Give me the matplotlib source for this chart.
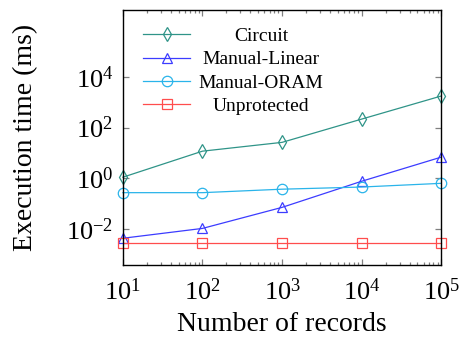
import matplotlib
matplotlib.use("Agg")
import matplotlib.pyplot as plt
from matplotlib.ticker import LogLocator, NullLocator, NullFormatter, FixedLocator

plt.rcParams['font.family'] = ['Liberation Serif', 'DejaVu Serif']
plt.rcParams['mathtext.fontset'] = 'cm'

records = [10, 100, 1000, 10000, 100000]
circuit = [1.1, 11.7, 26, 215, 1750]
manual_linear = [0.0043, 0.0105, 0.071, 0.76, 6.8]
manual_oram = [0.27, 0.27, 0.37, 0.45, 0.63]
unprotected = [0.0027, 0.0027, 0.0027, 0.0027, 0.0027]

series = [
    ("Circuit", circuit, '#2f9488', 'd', 7.0),
    ("Manual-Linear", manual_linear, '#3c3cff', '^', 6.5),
    ("Manual-ORAM", manual_oram, '#2ab4ea', 'o', 7.5),
    ("Unprotected", unprotected, '#ff4d4d', 's', 7.5),
]

fig = plt.figure(figsize=(4.62, 3.41), dpi=100)
ax = fig.add_axes([0.266, 0.223, 0.689, 0.748])
for name, vals, col, mk, ms in series:
    ax.plot(records, vals, color=col, marker=mk, markersize=ms, markerfacecolor='none',
            markeredgecolor=col, markeredgewidth=0.9, linewidth=0.9, label=name, clip_on=False)

ax.set_xscale('log')
ax.set_yscale('log')
ax.set_xlim(10, 1e5)
ax.set_ylim(10**-3.42, 10**6.64)
ax.xaxis.set_major_locator(FixedLocator(records))
ax.yaxis.set_major_locator(FixedLocator([1e-2, 1, 1e2, 1e4]))
ax.yaxis.set_minor_locator(NullLocator())
ax.xaxis.set_minor_locator(LogLocator(base=10, subs=range(2, 10), numticks=30))
ax.xaxis.set_minor_formatter(NullFormatter())
ax.tick_params(which='both', direction='in', top=True, right=True, labelsize=19,
               color='#808080', width=0.9)
ax.tick_params(which='major', length=4.5)
ax.tick_params(axis='x', which='major', pad=10)
ax.tick_params(axis='y', which='major', pad=7)
ax.tick_params(which='minor', length=2.5)
ax.set_xlabel("Number of records", fontsize=20, labelpad=5)
ax.set_ylabel("Execution time (ms)", fontsize=20, labelpad=20)
for s in ax.spines.values():
    s.set_linewidth(1.0)

leg = ax.legend(loc='upper left', frameon=False, fontsize=14, handlelength=2.45,
                borderaxespad=0.0, bbox_to_anchor=(0.038, 0.962),
                labelspacing=0.3, handletextpad=0.42)
fig.canvas.draw()
renderer = fig.canvas.get_renderer()
texts = leg.get_texts()
widths = [t.get_window_extent(renderer).width for t in texts]
W = max(widths)
for t, w in zip(texts, widths):
    t.set_x((W - w) / 2)
fig.savefig("out.png", dpi=100)
